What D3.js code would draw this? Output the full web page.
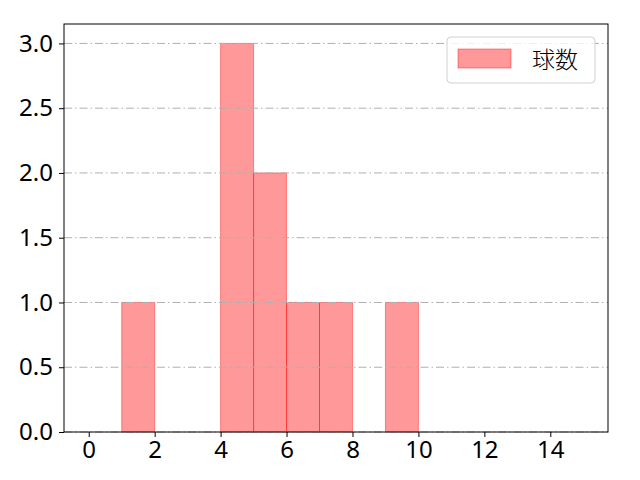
<!DOCTYPE html>
<html>
<head>
<meta charset="utf-8">
<script src="https://cdn.jsdelivr.net/npm/d3@7"></script>
<style>
  body { margin: 0; background: #fff; }
  text { font-family: "Noto Sans CJK JP", "Noto Sans", sans-serif; }
</style>
</head>
<body>
<div id="chart"></div>
<script>
// histogram bins (left edge, right edge) and counts
const binStarts = [1, 4, 5, 6, 7, 9];
const binEnds = [2, 5, 6, 7, 8, 10];
const counts = [1, 3, 2, 1, 1, 1];
const xTicks = [0, 2, 4, 6, 8, 10, 12, 14];
const yTicks = [0, 0.5, 1.0, 1.5, 2.0, 2.5, 3.0];
const seriesName = "球数";

const width = 640, height = 480;
const margin = { top: 24, right: 32, bottom: 48, left: 64 };

const svg = d3.select("#chart")
  .append("svg")
  .attr("width", width)
  .attr("height", height);

const x = d3.scaleLinear()
  .domain([-0.75, 15.75])
  .range([margin.left, width - margin.right]);

const y = d3.scaleLinear()
  .domain([0, 3.15])
  .range([height - margin.bottom, margin.top]);

const bins = binStarts.map((s, i) => ({ x0: s, x1: binEnds[i], n: counts[i] }));

// bars
svg.append("g")
  .selectAll("rect")
  .data(bins)
  .join("rect")
  .attr("x", d => x(d.x0))
  .attr("y", d => y(d.n))
  .attr("width", d => x(d.x1) - x(d.x0))
  .attr("height", d => y(0) - y(d.n))
  .attr("fill", "rgba(255,0,0,0.4)")
  .attr("stroke", "rgba(255,0,0,0.4)")
  .attr("stroke-width", 1);

// horizontal grid, drawn above the bars
svg.append("g")
  .selectAll("line")
  .data(yTicks)
  .join("line")
  .attr("x1", margin.left)
  .attr("x2", width - margin.right)
  .attr("y1", d => y(d))
  .attr("y2", d => y(d))
  .attr("stroke", "#b0b0b0")
  .attr("stroke-width", 1)
  .attr("stroke-dasharray", "8,3,1.5,3");

// axes
const xAxis = svg.append("g")
  .attr("transform", `translate(0,${height - margin.bottom})`)
  .call(d3.axisBottom(x).tickValues(xTicks).tickSize(5).tickPadding(4));

const yAxis = svg.append("g")
  .attr("transform", `translate(${margin.left},0)`)
  .call(d3.axisLeft(y).tickValues(yTicks).tickFormat(d3.format(".1f")).tickSize(5).tickPadding(6));

[xAxis, yAxis].forEach(g => {
  g.select(".domain").remove();
  g.selectAll("text")
    .attr("fill", "#000")
    .style("font-size", "24px")
    .style("font-family", "\"Noto Sans\", sans-serif");
  g.selectAll("line").attr("stroke", "#000");
});

// frame
svg.append("rect")
  .attr("x", margin.left)
  .attr("y", margin.top)
  .attr("width", width - margin.left - margin.right)
  .attr("height", height - margin.top - margin.bottom)
  .attr("fill", "none")
  .attr("stroke", "#000")
  .attr("stroke-width", 1);

// legend
const legend = svg.append("g").attr("transform", "translate(447,37)");
legend.append("rect")
  .attr("width", 148)
  .attr("height", 46)
  .attr("rx", 4)
  .attr("fill", "rgba(255,255,255,0.8)")
  .attr("stroke", "#d0d0d0");
legend.append("rect")
  .attr("x", 11)
  .attr("y", 12)
  .attr("width", 53)
  .attr("height", 19)
  .attr("fill", "rgba(255,0,0,0.4)")
  .attr("stroke", "rgba(255,0,0,0.4)");
legend.append("text")
  .attr("x", 85)
  .attr("y", 31)
  .style("font-size", "23px")
  .style("font-weight", "300")
  .text(seriesName);
</script>
</body>
</html>
